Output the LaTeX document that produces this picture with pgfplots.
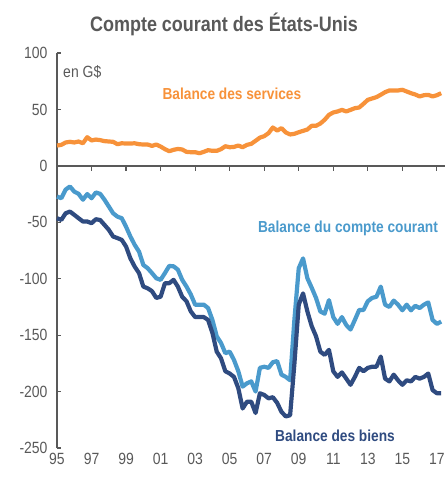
\documentclass[border=0pt]{standalone}
\usepackage{fontspec}
\setmainfont{Liberation Sans}[FakeStretch=0.86]
\usepackage{pgfplots}
\pgfplotsset{compat=1.18}
\definecolor{svc}{HTML}{F7923A}
\definecolor{cur}{HTML}{4A9ACC}
\definecolor{goods}{HTML}{2F4B80}
\definecolor{txt}{HTML}{595959}

\pgfplotstableread{
x v
1995.00 18.0
1995.25 18.6
1995.50 20.7
1995.75 21.3
1996.00 20.7
1996.25 21.6
1996.50 20.0
1996.75 25.4
1997.00 22.5
1997.25 23.3
1997.50 22.8
1997.75 21.9
1998.00 21.6
1998.25 21.3
1998.50 19.2
1998.75 20.0
1999.00 19.8
1999.25 19.8
1999.50 20.0
1999.75 19.2
2000.00 18.9
2000.25 18.9
2000.50 17.7
2000.75 18.9
2001.00 17.1
2001.25 14.8
2001.50 13.0
2001.75 14.2
2002.00 15.0
2002.25 14.5
2002.50 12.4
2002.75 12.1
2003.00 12.1
2003.25 11.2
2003.50 12.4
2003.75 13.9
2004.00 13.3
2004.25 13.3
2004.50 14.8
2004.75 17.4
2005.00 16.5
2005.25 16.8
2005.50 18.0
2005.75 16.5
2006.00 18.6
2006.25 19.5
2006.50 22.2
2006.75 25.0
2007.00 26.3
2007.25 29.0
2007.50 34.0
2007.75 31.3
2008.00 33.4
2008.25 29.6
2008.50 27.8
2008.75 28.4
2009.00 29.8
2009.25 31.0
2009.50 32.2
2009.75 35.5
2010.00 35.5
2010.25 37.5
2010.50 40.8
2010.75 45.2
2011.00 47.3
2011.25 48.2
2011.50 49.6
2011.75 48.2
2012.00 49.6
2012.25 51.1
2012.50 51.7
2012.75 55.0
2013.00 58.5
2013.25 59.7
2013.50 60.9
2013.75 63.0
2014.00 65.3
2014.25 66.8
2014.50 66.8
2014.75 66.8
2015.00 67.4
2015.25 65.9
2015.50 64.4
2015.75 63.2
2016.00 61.5
2016.25 62.6
2016.50 62.9
2016.75 61.5
2017.00 62.6
2017.25 64.4
}\services

\pgfplotstableread{
x v
1995.00 -27.2
1995.25 -28.7
1995.50 -21.0
1995.75 -18.3
1996.00 -22.8
1996.25 -24.8
1996.50 -30.0
1996.75 -25.0
1997.00 -28.7
1997.25 -23.6
1997.50 -24.8
1997.75 -30.0
1998.00 -36.0
1998.25 -42.0
1998.50 -45.0
1998.75 -46.4
1999.00 -54.0
1999.25 -62.6
1999.50 -70.0
1999.75 -76.0
2000.00 -87.8
2000.25 -90.7
2000.50 -95.0
2000.75 -99.6
2001.00 -101.0
2001.25 -95.0
2001.50 -88.7
2001.75 -89.0
2002.00 -92.0
2002.25 -101.0
2002.50 -107.0
2002.75 -114.0
2003.00 -123.0
2003.25 -123.0
2003.50 -123.0
2003.75 -126.0
2004.00 -136.5
2004.25 -151.0
2004.50 -157.0
2004.75 -166.0
2005.00 -164.6
2005.25 -172.0
2005.50 -182.0
2005.75 -195.6
2006.00 -192.7
2006.25 -191.0
2006.50 -200.0
2006.75 -179.0
2007.00 -178.0
2007.25 -179.0
2007.50 -174.0
2007.75 -173.0
2008.00 -185.0
2008.25 -187.0
2008.50 -190.0
2008.75 -136.0
2009.00 -90.7
2009.25 -82.0
2009.50 -99.6
2009.75 -108.0
2010.00 -117.0
2010.25 -129.0
2010.50 -131.0
2010.75 -119.0
2011.00 -134.0
2011.25 -140.0
2011.50 -134.0
2011.75 -141.0
2012.00 -145.0
2012.25 -136.5
2012.50 -127.7
2012.75 -127.7
2013.00 -120.0
2013.25 -117.0
2013.50 -116.0
2013.75 -107.0
2014.00 -123.0
2014.25 -125.0
2014.50 -119.4
2014.75 -123.0
2015.00 -128.0
2015.25 -123.0
2015.50 -128.0
2015.75 -124.0
2016.00 -126.0
2016.25 -123.0
2016.50 -121.0
2016.75 -136.5
2017.00 -140.0
2017.25 -138.0
}\current

\pgfplotstableread{
x v
1995.00 -46.4
1995.25 -47.9
1995.50 -42.0
1995.75 -40.5
1996.00 -43.4
1996.25 -46.4
1996.50 -49.3
1996.75 -49.3
1997.00 -50.8
1997.25 -47.3
1997.50 -48.0
1997.75 -52.3
1998.00 -56.7
1998.25 -62.6
1998.50 -64.0
1998.75 -65.6
1999.00 -71.5
1999.25 -82.0
1999.50 -89.3
1999.75 -95.0
2000.00 -107.0
2000.25 -108.5
2000.50 -111.0
2000.75 -117.0
2001.00 -116.0
2001.25 -104.0
2001.50 -104.0
2001.75 -101.0
2002.00 -107.0
2002.25 -116.0
2002.50 -120.0
2002.75 -129.0
2003.00 -134.0
2003.25 -134.0
2003.50 -134.0
2003.75 -136.5
2004.00 -148.0
2004.25 -164.6
2004.50 -170.5
2004.75 -182.0
2005.00 -184.0
2005.25 -187.0
2005.50 -197.0
2005.75 -215.0
2006.00 -209.0
2006.25 -209.0
2006.50 -219.0
2006.75 -201.5
2007.00 -203.0
2007.25 -206.0
2007.50 -205.0
2007.75 -210.0
2008.00 -218.0
2008.25 -222.0
2008.50 -221.0
2008.75 -175.0
2009.00 -123.0
2009.25 -113.0
2009.50 -129.0
2009.75 -142.0
2010.00 -151.0
2010.25 -164.6
2010.50 -167.5
2010.75 -163.0
2011.00 -182.0
2011.25 -187.0
2011.50 -183.0
2011.75 -188.5
2012.00 -194.0
2012.25 -187.0
2012.50 -179.0
2012.75 -182.0
2013.00 -179.0
2013.25 -178.0
2013.50 -178.0
2013.75 -169.0
2014.00 -188.5
2014.25 -191.0
2014.50 -185.0
2014.75 -190.0
2015.00 -194.0
2015.25 -190.0
2015.50 -191.0
2015.75 -187.0
2016.00 -188.5
2016.25 -187.0
2016.50 -184.0
2016.75 -198.6
2017.00 -201.5
2017.25 -201.5
}\goods

\begin{document}
\begin{tikzpicture}
\begin{axis}[
  at={(0,0)}, anchor=south west,
  scale only axis,
  width=388bp, height=395bp,
  xmin=1995, xmax=2017.47,
  ymin=-250, ymax=100,
  axis y line*=left,
  axis x line*=bottom,
  x axis line style={draw=none},
  y axis line style={draw=txt, line width=1.3bp},
  ytick={-250,-200,-150,-100,-50,0,50,100},
  ytick style={draw=txt, line width=1.2bp},
  major tick length=4bp,
  xtick={1995,1997,1999,2001,2003,2005,2007,2009,2011,2013,2015,2017},
  xticklabels={95,97,99,01,03,05,07,09,11,13,15,17},
  xtick style={draw=none},
  tick label style={font=\fontsize{16.3}{18}\selectfont, text=txt},
  /pgf/number format/assume math mode=true,
  xticklabel style={yshift=-2bp},
  yticklabel style={xshift=-6bp},
  clip=false,
  line join=round,
]
\addplot[svc, line width=4.2bp, no marks] table[x=x,y=v] {\services};
\addplot[cur, line width=4.2bp, no marks] table[x=x,y=v] {\current};
\addplot[goods, line width=4.2bp, no marks] table[x=x,y=v] {\goods};

\node[anchor=west, text=txt, font=\fontsize{16.3}{18}\selectfont, inner sep=0pt] at (axis cs:1995.35,83.5) {en G\$};
\node[text=svc, font=\bfseries\fontsize{16}{18}\selectfont] at (axis cs:2005.13,63.8) {Balance des services};
\node[text=cur, font=\bfseries\fontsize{16}{18}\selectfont] at (axis cs:2011.85,-55) {Balance du compte courant};
\node[text=goods, font=\bfseries\fontsize{16}{18}\selectfont] at (axis cs:2011.1,-239) {Balance des biens};
\end{axis}
% zero line with downward ticks (decoration)
\draw[txt, line width=1.3bp] (0,282.14bp) -- (388bp,282.14bp);
\foreach \k in {1,...,11} {
  \draw[txt, line width=1.2bp] (\k*34.535bp,282.14bp) -- ++(0,-5bp);
}
\node[text=txt, font=\bfseries\fontsize{21}{24}\selectfont] at (167bp,424bp) {Compte courant des États-Unis};
\pgfresetboundingbox
\path[use as bounding box] (-57bp,-32bp) rectangle (388bp,448bp);
\end{tikzpicture}
\end{document}
